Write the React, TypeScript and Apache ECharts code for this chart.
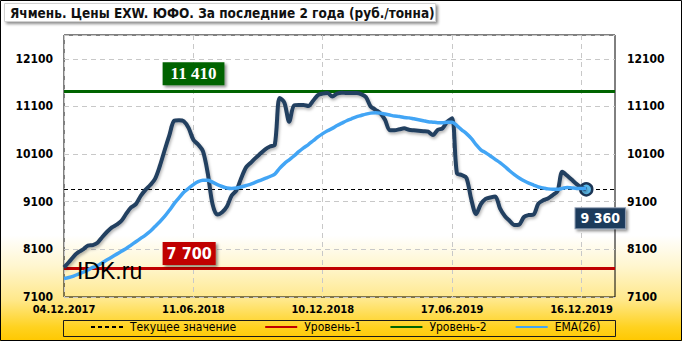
import React, { useEffect, useRef } from "react";
import * as echarts from "echarts";

const TITLE = "Ячмень. Цены EXW. ЮФО. За последние 2 года (руб./тонна)";
const WATERMARK = "IDK.ru";
const xTickLabels = ["04.12.2017", "11.06.2018", "10.12.2018", "17.06.2019", "16.12.2019"];
const TICK_STEP = 27;
const AXIS_SLOTS = 116;

const price = [
  7720, 7830, 7950, 8040, 8100, 8180, 8190, 8240, 8360, 8470,
  8560, 8620, 8700, 8850, 8980, 9050, 9220, 9350, 9450, 9580,
  9850, 10180, 10500, 10800, 10810, 10790, 10650, 10400, 10300, 10160,
  9700, 9050, 8830, 8880, 9000, 9230, 9340, 9600, 9820, 9920,
  10020, 10110, 10200, 10260, 10300, 11280, 11180, 10780, 11120, 11130,
  11130, 11110, 11220, 11340, 11370, 11380, 11310, 11370, 11390, 11380,
  11380, 11380, 11360, 11300, 11100, 11030, 10960, 10820, 10600, 10600,
  10620, 10640, 10610, 10600, 10590, 10580, 10570, 10500, 10610, 10640,
  10780, 10850, 9700, 9660, 9600, 9150, 8840, 9050, 9160, 9190,
  9210, 8960, 8800, 8700, 8610, 8620, 8780, 8820, 8830, 9060,
  9130, 9170, 9240, 9320, 9730, 9650, 9560, 9470, 9400, 9360,
];

const ema = [
  7490, 7510, 7540, 7580, 7620, 7670, 7720, 7760, 7820, 7880,
  7940, 8000, 8060, 8120, 8190, 8260, 8330, 8400, 8480, 8580,
  8680, 8790, 8920, 9060, 9180, 9300, 9380, 9460, 9520, 9550,
  9550, 9510, 9460, 9420, 9390, 9380, 9390, 9410, 9440, 9470,
  9510, 9550, 9590, 9630, 9680, 9800, 9900, 9980, 10060, 10150,
  10230, 10300, 10380, 10460, 10530, 10590, 10640, 10700, 10750, 10800,
  10840, 10880, 10910, 10940, 10960, 10970, 10960, 10940, 10920, 10900,
  10890, 10870, 10860, 10840, 10820, 10800, 10780, 10770, 10760, 10760,
  10770, 10770, 10700, 10610, 10530, 10430, 10300, 10190, 10130, 10060,
  9990, 9920, 9840, 9750, 9670, 9600, 9540, 9490, 9450, 9410,
  9390, 9370, 9360, 9360, 9380, 9400, 9390, 9380, 9380, 9380,
];

const currentValue = 9360;
const level1 = 7700;
const level2 = 11410;
const levelLabelAt = 21;
const yMin = 7100;
const yMax = 12600;
const yStep = 1000;
const legendNames = ["Текущее значение", "Уровень-1", "Уровень-2", "EMA(26)"];

const COND = '"DejaVu Sans Condensed", "DejaVu Sans", sans-serif';
const fmt = (v: number) => String(v).replace(/\B(?=(\d{3})+(?!\d))/g, " ");
const categories = Array.from({ length: AXIS_SLOTS }, (_, i) => String(i));

const boxShadow = {
  shadowBlur: 3,
  shadowColor: "rgba(0,0,0,0.45)",
  shadowOffsetX: 2,
  shadowOffsetY: 2,
};

const lineShadow = {
  shadowBlur: 3,
  shadowColor: "rgba(0,0,0,0.3)",
  shadowOffsetX: 1,
  shadowOffsetY: 2,
};

function levelLabel(value: number, color: string, font: string, fontSize: number, pad: number[], dy: number) {
  return {
    symbol: "rect",
    symbolSize: 1,
    itemStyle: { color: "rgba(0,0,0,0)" },
    silent: true,
    data: [{ coord: [levelLabelAt, value], value }],
    label: {
      show: true,
      position: "inside",
      align: "left",
      verticalAlign: "middle",
      offset: [-2, dy],
      formatter: fmt(value),
      backgroundColor: color,
      color: "#fff",
      fontFamily: font,
      fontWeight: "bold",
      fontSize,
      lineHeight: fontSize + 1,
      padding: pad,
      ...boxShadow,
    },
  };
}

function levelSeries(name: string, value: number, color: string, withLabel: any) {
  return {
    name,
    type: "line",
    data: [],
    symbol: "none",
    itemStyle: { color },
    lineStyle: { color, width: 3 },
    markLine: {
      silent: true,
      symbol: "none",
      label: { show: false },
      lineStyle: { color, width: 3, type: "solid" },
      data: [{ yAxis: value }],
    },
    markPoint: withLabel,
    z: 3,
  };
}

export default function App() {
  const ref = useRef<HTMLDivElement>(null);

  useEffect(() => {
    document.body.style.margin = "0";
    if (!ref.current) return;
    const chart = echarts.init(ref.current, undefined, { renderer: "svg" });

    const yAxisCommon = {
      type: "value",
      min: yMin,
      max: yMax,
      interval: yStep,
      axisLine: { show: false },
      axisTick: { show: false },
    };
    const yLabel = {
      showMaxLabel: false,
      formatter: (v: number) => String(v),
      fontFamily: COND,
      fontWeight: "bold",
      fontSize: 12,
      color: "#000",
    };

    chart.setOption({
      animation: false,
      backgroundColor: "transparent",
      grid: {
        left: 64,
        top: 35,
        right: 67,
        bottom: 44,
        show: true,
        borderColor: "#000",
        borderWidth: 1,
        backgroundColor: "transparent",
      },
      xAxis: {
        type: "category",
        data: categories,
        boundaryGap: false,
        axisLine: { show: false },
        axisTick: { show: false },
        axisLabel: {
          interval: TICK_STEP - 1,
          formatter: (_v: string, i: number) => xTickLabels[i / TICK_STEP] ?? "",
          fontFamily: COND,
          fontWeight: "bold",
          fontSize: 11,
          color: "#000",
          margin: 7,
        },
        splitLine: {
          show: true,
          interval: TICK_STEP - 1,
          lineStyle: { color: "#C8C8C8", type: [5, 4], width: 1 },
        },
      },
      yAxis: [
        {
          ...yAxisCommon,
          position: "left",
          axisLabel: { ...yLabel, margin: 11 },
          splitLine: { show: true, lineStyle: { color: "#C8C8C8", type: [5, 4], width: 1 } },
        },
        {
          ...yAxisCommon,
          position: "right",
          axisLabel: { ...yLabel, margin: 12 },
          splitLine: { show: false },
        },
      ],
      legend: {
        data: legendNames,
        left: 90,
        top: 321,
        padding: 0,
        itemWidth: 32,
        itemHeight: 14,
        itemGap: 28,
        selectedMode: false,
        itemStyle: { color: "rgba(0,0,0,0)", borderWidth: 0, opacity: 0 },
        textStyle: { fontFamily: COND, fontSize: 12, color: "#000", padding: [0, 0, 0, 2] },
      },
      graphic: [
        {
          type: "rect",
          z: 0,
          silent: true,
          shape: { x: 0.5, y: 0.5, width: 681, height: 340 },
          style: { fill: "none", stroke: "#000", lineWidth: 1 },
        },
        {
          type: "rect",
          z: 0,
          silent: true,
          shape: { x: 63.5, y: 320.5, width: 552, height: 16 },
          style: { fill: "none", stroke: "#1a1a1a", lineWidth: 1 },
        },
        {
          type: "rect",
          z: 50,
          silent: true,
          shape: { x: 4.5, y: 3.5, width: 431, height: 18 },
          style: { fill: "#fff", stroke: "#d0d0d0", lineWidth: 1, ...boxShadow },
        },
        {
          type: "text",
          z: 51,
          silent: true,
          x: 10,
          y: 13,
          style: {
            text: TITLE,
            font: `bold 13.5px ${COND}`,
            verticalAlign: "middle",
            fill: "#111",
          },
        },
        {
          type: "text",
          z: 100,
          silent: true,
          x: 77,
          y: 259,
          style: {
            text: WATERMARK,
            font: '23px "Liberation Sans", Arial, sans-serif',
            fill: "#000",
          },
        },
      ],
      series: [
        {
          name: "Текущее значение",
          type: "line",
          data: [],
          symbol: "none",
          itemStyle: { color: "#000" },
          lineStyle: { color: "#000", width: 1, type: [4, 3] },
          markLine: {
            silent: true,
            symbol: "none",
            label: { show: false },
            lineStyle: { color: "#000", width: 1, type: [4, 3] },
            data: [{ yAxis: currentValue }],
          },
          z: 2,
        },
        levelSeries("Уровень-1", level1, "#C00000",
          levelLabel(level1, "#C00000", COND, 16, [3, 4, 3, 4], -15)),
        levelSeries("Уровень-2", level2, "#006400",
          levelLabel(level2, "#006400", '"Liberation Serif", serif', 17, [3, 8, 2, 8], -18)),
        {
          name: "price",
          type: "line",
          data: price,
          smooth: 0.3,
          symbol: "none",
          itemStyle: { color: "#243F60" },
          lineStyle: { color: "#243F60", width: 4, ...lineShadow },
          z: 5,
        },
        {
          name: "EMA(26)",
          type: "line",
          data: ema,
          smooth: 0.3,
          symbol: "none",
          itemStyle: { color: "#42A5F5" },
          lineStyle: { color: "#42A5F5", width: 3.5 },
          z: 6,
          markPoint: {
            symbol: "circle",
            symbolSize: 12,
            silent: true,
            itemStyle: { color: "#5DBBEA", borderColor: "#1B3555", borderWidth: 2.5 },
            data: [{ coord: [price.length - 1, currentValue], value: currentValue }],
            label: {
              show: true,
              position: "inside",
              offset: [14, 29],
              formatter: fmt(currentValue),
              backgroundColor: "#1F3A5C",
              borderColor: "#8a9bb0",
              borderWidth: 1,
              color: "#fff",
              fontFamily: COND,
              fontWeight: "bold",
              fontSize: 14,
              lineHeight: 15,
              padding: [3, 5, 2, 5],
              ...boxShadow,
            },
          },
        },
      ],
    });

    return () => chart.dispose();
  }, []);

  return (
    <div
      ref={ref}
      style={{
        width: 682,
        height: 341,
        background:
          "linear-gradient(to bottom, #ffffff 0%, #ffffff 69%, #fff6cf 78%, #ffe88a 88%, #ffd21f 96%, #ffc800 100%)",
      }}
    />
  );
}
